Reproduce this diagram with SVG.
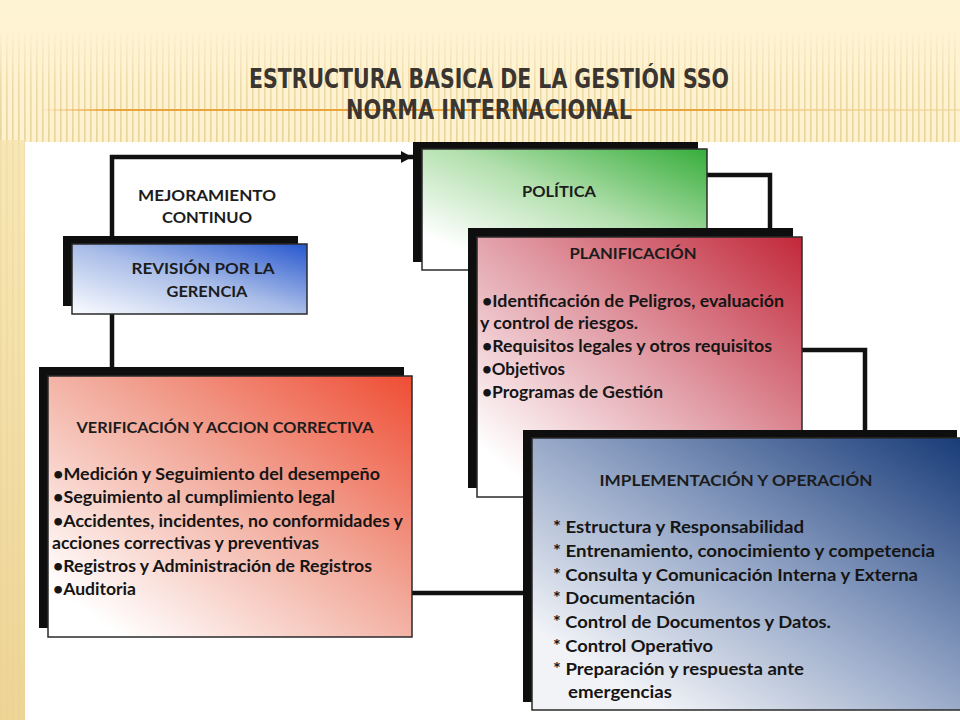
<svg xmlns="http://www.w3.org/2000/svg" width="960" height="720" viewBox="0 0 960 720">
<defs>
<linearGradient id="bgTop" x1="0" y1="0" x2="0" y2="1">
<stop offset="0" stop-color="#fef3d3"/>
<stop offset="1" stop-color="#fcebc0"/>
</linearGradient>
<linearGradient id="strip" x1="0" y1="0" x2="0" y2="1">
<stop offset="0" stop-color="#f8e7b6"/>
<stop offset="1" stop-color="#eed495"/>
</linearGradient>
<pattern id="stripes" width="6" height="10" patternUnits="userSpaceOnUse">
<rect x="0" y="0" width="1.6" height="10" fill="#e6cf95"/>
</pattern>
<linearGradient id="fadeDown" x1="0" y1="0" x2="0" y2="1">
<stop offset="0" stop-color="#fff" stop-opacity="0"/>
<stop offset="0.5" stop-color="#fff" stop-opacity="0.7"/>
<stop offset="1" stop-color="#fff" stop-opacity="0.9"/>
</linearGradient>
<mask id="stripeMask" maskUnits="userSpaceOnUse" x="0" y="30" width="960" height="120">
<rect x="0" y="30" width="960" height="115" fill="url(#fadeDown)"/>
</mask>
<linearGradient id="orangeLine" x1="0" y1="0" x2="1" y2="0">
<stop offset="0" stop-color="#e9a53a" stop-opacity="0"/>
<stop offset="0.08" stop-color="#e9a53a"/>
<stop offset="0.74" stop-color="#e9a53a"/>
<stop offset="0.8" stop-color="#f0c878" stop-opacity="0.7"/>
<stop offset="1" stop-color="#f0d090" stop-opacity="0.5"/>
</linearGradient>
<linearGradient id="gRev" x1="1" y1="0" x2="0" y2="1">
<stop offset="0" stop-color="#2757cf"/>
<stop offset="0.5" stop-color="#a9bde8"/>
<stop offset="1" stop-color="#fbfcff"/>
</linearGradient>
<linearGradient id="gPol" x1="1" y1="0" x2="0" y2="1">
<stop offset="0" stop-color="#36ad3a"/>
<stop offset="0.45" stop-color="#b3e0ae"/>
<stop offset="0.85" stop-color="#ffffff"/>
</linearGradient>
<linearGradient id="gPlan" x1="1" y1="0" x2="0" y2="1">
<stop offset="0" stop-color="#c2283a"/>
<stop offset="0.5" stop-color="#e3a3ac"/>
<stop offset="0.9" stop-color="#ffffff"/>
</linearGradient>
<linearGradient id="gVer" x1="1" y1="0" x2="0" y2="1">
<stop offset="0" stop-color="#ef4d34"/>
<stop offset="0.45" stop-color="#f2aa9b"/>
<stop offset="0.9" stop-color="#ffffff"/>
</linearGradient>
<linearGradient id="gImp" x1="1" y1="0" x2="0" y2="1">
<stop offset="0" stop-color="#173a77"/>
<stop offset="0.45" stop-color="#8c9fc2"/>
<stop offset="0.85" stop-color="#f1f3f7"/>
</linearGradient>
<marker id="arrow" markerWidth="12" markerHeight="12" refX="11" refY="6" orient="auto" markerUnits="userSpaceOnUse">
<path d="M0,0 L11,6 L0,12 Z" fill="#111"/>
</marker>
</defs>
<style>
.shadow{fill:#0e0e0e}
.front{stroke:#2a2a2a;stroke-width:1.5}
.conn{fill:none;stroke:#111;stroke-width:4.5;stroke-linecap:square}
.hd{font-family:Lato,"Open Sans","Liberation Sans",sans-serif;font-weight:700;font-size:16px;fill:#1c1c1c;text-anchor:middle}
.tx{font-family:Lato,"Open Sans","Liberation Sans",sans-serif;font-weight:700;font-size:17px;fill:#151515}
.title{font-family:"Liberation Sans Narrow","DejaVu Sans Condensed","Liberation Sans",sans-serif;font-weight:700;font-size:26px;fill:#3a3530;text-anchor:middle}
</style>

<!-- background -->
<rect x="0" y="0" width="960" height="720" fill="url(#bgTop)"/>
<rect x="0" y="30" width="960" height="115" fill="url(#stripes)" mask="url(#stripeMask)"/>
<rect x="0" y="140" width="25" height="580" fill="url(#strip)"/>
<rect x="0" y="140" width="25" height="580" fill="url(#stripes)" opacity="0.35"/>
<rect x="40" y="109" width="920" height="2" fill="url(#orangeLine)"/>

<g id="title">
<text class="title" x="489" y="88" textLength="480" lengthAdjust="spacingAndGlyphs">ESTRUCTURA BASICA DE LA GESTIÓN SSO</text>
<text class="title" x="489" y="119" textLength="286" lengthAdjust="spacingAndGlyphs">NORMA INTERNACIONAL</text>
</g>

<rect x="25" y="142" width="935" height="578" fill="#ffffff"/>

<g id="connectors">
<path class="conn" d="M112,376 L112,157 L412,157" marker-end="url(#arrow)"/>
<path class="conn" d="M707,175 L770,175 L770,228"/>
<path class="conn" d="M802,350 L865,350 L865,430"/>
<path class="conn" d="M412,593 L523,593"/>
<text class="hd" x="207" y="201" textLength="138" lengthAdjust="spacingAndGlyphs">MEJORAMIENTO</text>
<text class="hd" x="207" y="223" textLength="90" lengthAdjust="spacingAndGlyphs">CONTINUO</text>
</g>

<g id="revision">
<rect class="shadow" x="63" y="236" width="235" height="70"/>
<rect class="front" x="72" y="244" width="235" height="70" fill="url(#gRev)"/>
<text class="hd" x="203" y="274" textLength="143" lengthAdjust="spacingAndGlyphs">REVISIÓN POR LA</text>
<text class="hd" x="207" y="297" textLength="81" lengthAdjust="spacingAndGlyphs">GERENCIA</text>
</g>

<g id="politica">
<rect class="shadow" x="413" y="142" width="285" height="120"/>
<rect class="front" x="422" y="149" width="285" height="121" fill="url(#gPol)"/>
<text class="hd" x="559" y="197" textLength="74" lengthAdjust="spacingAndGlyphs">POLÍTICA</text>
</g>

<g id="planificacion">
<rect class="shadow" x="468" y="228" width="325" height="260"/>
<rect class="front" x="477" y="237" width="325" height="260" fill="url(#gPlan)"/>
<text class="hd" x="633" y="259" textLength="127" lengthAdjust="spacingAndGlyphs">PLANIFICACIÓN</text>
<text class="tx" x="482" y="307" textLength="302" lengthAdjust="spacingAndGlyphs">•Identificación de Peligros, evaluación</text>
<text class="tx" x="480" y="329" textLength="158" lengthAdjust="spacingAndGlyphs">y control de riesgos.</text>
<text class="tx" x="482" y="352" textLength="290" lengthAdjust="spacingAndGlyphs">•Requisitos legales y otros requisitos</text>
<text class="tx" x="482" y="375" textLength="83" lengthAdjust="spacingAndGlyphs">•Objetivos</text>
<text class="tx" x="482" y="398" textLength="181" lengthAdjust="spacingAndGlyphs">•Programas de Gestión</text>
</g>

<g id="verificacion">
<rect class="shadow" x="39" y="367" width="365" height="261"/>
<rect class="front" x="48" y="376" width="364" height="261" fill="url(#gVer)"/>
<text class="hd" x="225" y="433" textLength="297" lengthAdjust="spacingAndGlyphs">VERIFICACIÓN Y ACCION CORRECTIVA</text>
<text class="tx" x="53" y="480" textLength="327" lengthAdjust="spacingAndGlyphs">•Medición y Seguimiento del desempeño</text>
<text class="tx" x="53" y="503" textLength="282" lengthAdjust="spacingAndGlyphs">•Seguimiento al cumplimiento legal</text>
<text class="tx" x="53" y="527" textLength="350" lengthAdjust="spacingAndGlyphs">•Accidentes, incidentes, no conformidades y</text>
<text class="tx" x="52" y="549" textLength="267" lengthAdjust="spacingAndGlyphs">acciones correctivas y preventivas</text>
<text class="tx" x="53" y="572" textLength="319" lengthAdjust="spacingAndGlyphs">•Registros y Administración de Registros</text>
<text class="tx" x="53" y="595" textLength="83" lengthAdjust="spacingAndGlyphs">•Auditoria</text>
</g>

<g id="implementacion">
<rect class="shadow" x="523" y="430" width="434" height="272"/>
<rect class="front" x="532" y="438" width="434" height="272" fill="url(#gImp)"/>
<text class="hd" x="736" y="486" textLength="273" lengthAdjust="spacingAndGlyphs">IMPLEMENTACIÓN Y OPERACIÓN</text>
<text class="tx" x="553" y="533" textLength="251" lengthAdjust="spacingAndGlyphs">* Estructura y Responsabilidad</text>
<text class="tx" x="553" y="557" textLength="382" lengthAdjust="spacingAndGlyphs">* Entrenamiento, conocimiento y competencia</text>
<text class="tx" x="553" y="581" textLength="365" lengthAdjust="spacingAndGlyphs">* Consulta y Comunicación Interna y Externa</text>
<text class="tx" x="553" y="604" textLength="142" lengthAdjust="spacingAndGlyphs">* Documentación</text>
<text class="tx" x="553" y="628" textLength="278" lengthAdjust="spacingAndGlyphs">* Control de Documentos y Datos.</text>
<text class="tx" x="553" y="652" textLength="160" lengthAdjust="spacingAndGlyphs">* Control Operativo</text>
<text class="tx" x="553" y="675" textLength="251" lengthAdjust="spacingAndGlyphs">* Preparación y respuesta ante</text>
<text class="tx" x="568" y="698" textLength="104" lengthAdjust="spacingAndGlyphs">emergencias</text>
</g>
</svg>
